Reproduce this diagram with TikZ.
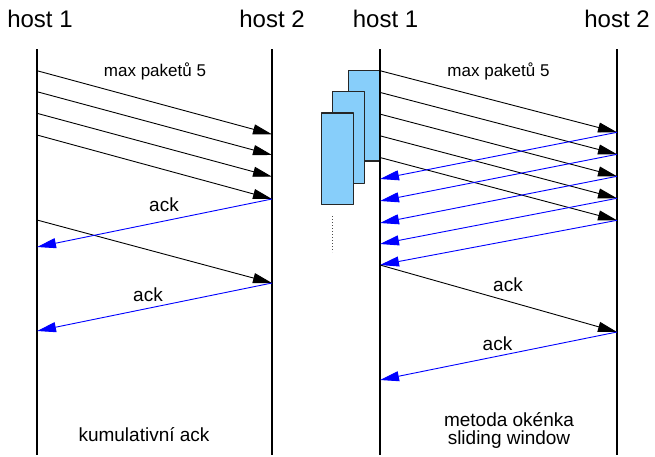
\documentclass[tikz,border=0pt]{standalone}
\usepackage{fontspec}
\setmainfont{Liberation Sans}
\usetikzlibrary{arrows.meta}
\definecolor{winBlue}{HTML}{0000FF}
\definecolor{winPane}{HTML}{87CEFA}
\definecolor{winEdge}{HTML}{262626}

\begin{document}
\begin{tikzpicture}[x=1pt,y=-1pt,line join=round]
\path[fill=white] (0,0) rectangle (655,455);
\tikzset{life/.style={draw=black,line width=2pt},msg/.style={draw=black,line width=0.9pt,-{Triangle[length=19pt,width=10pt]}},ackmsg/.style={draw=winBlue,line width=0.9pt,-{Triangle[length=19pt,width=10pt]}},pane/.style={draw=winEdge,fill=winPane,line width=1.1pt},host/.style={font=\fontsize{24}{28}\selectfont,anchor=base},lbl/.style={font=\fontsize{19}{22}\selectfont},small/.style={font=\fontsize{17}{20}\selectfont}}
% left half: cumulative ack
\node[host] (hostA) at (40,27) {host 1}; \node[host] (hostB) at (272,27) {host 2};
\coordinate (lineAt) at (37,49); \coordinate (lineAb) at (37,455); \coordinate (lineBt) at (272,49); \coordinate (lineBb) at (272,455);
\draw[life] (lineAt) -- (lineAb); \draw[life] (lineBt) -- (lineBb);
\coordinate (sendA1) at (37,70.7); \coordinate (sendA2) at (37,91.7); \coordinate (sendA3) at (37,113.3); \coordinate (sendA4) at (37,135); \coordinate (sendA5) at (37,220);
\coordinate (recvB1) at (272,134.3); \coordinate (recvB2) at (272,155); \coordinate (recvB3) at (272,176.7); \coordinate (recvB4) at (272,199); \coordinate (recvB5) at (272,283);
\coordinate (ackA1) at (37,247); \coordinate (ackA2) at (37,331);
\draw[msg] (sendA1) -- (recvB1); \draw[msg] (sendA2) -- (recvB2); \draw[msg] (sendA3) -- (recvB3); \draw[msg] (sendA4) -- (recvB4); \draw[msg] (sendA5) -- (recvB5);
\draw[ackmsg] (recvB4) -- (ackA1); \draw[ackmsg] (recvB5) -- (ackA2);
\node[small] (maxA) at (155,71) {max paketů 5}; \node[lbl] (ackLa) at (164,205) {ack}; \node[lbl] (ackLb) at (148,295) {ack};
\node[lbl] (noteA) at (144,435) {kumulativní ack};
% right half: sliding window
\path[pane] (348.3,70.7) rectangle (380,161); \path[pane] (332.3,91.7) rectangle (364.3,183.3); \path[pane] (321.3,113) rectangle (353.7,204.7);
\draw[black!70,line width=0.8pt,dash pattern=on 0.8pt off 2.2pt] (332,216) -- (332,252);
\node[host] (hostC) at (385.5,27) {host 1}; \node[host] (hostD) at (617,27) {host 2};
\coordinate (lineCt) at (380,49); \coordinate (lineCb) at (380,455); \coordinate (lineDt) at (617,49); \coordinate (lineDb) at (617,455);
\draw[life] (lineCt) -- (lineCb); \draw[life] (lineDt) -- (lineDb);
\coordinate (sendC1) at (380,70.7); \coordinate (sendC2) at (380,92.4); \coordinate (sendC3) at (380,114.1); \coordinate (sendC4) at (380,135.8); \coordinate (sendC5) at (380,157.5);
\coordinate (recvD1) at (617,132.3); \coordinate (recvD2) at (617,154.3); \coordinate (recvD3) at (617,176.3); \coordinate (recvD4) at (617,198.3); \coordinate (recvD5) at (617,220.3);
\coordinate (ackC1) at (380,179); \coordinate (ackC2) at (380,201); \coordinate (ackC3) at (380,223); \coordinate (ackC4) at (380,244); \coordinate (ackC5) at (380,265);
\coordinate (recvD6) at (617,332); \coordinate (ackC6) at (380,380);
\draw[msg] (sendC1) -- (recvD1); \draw[msg] (sendC2) -- (recvD2); \draw[msg] (sendC3) -- (recvD3); \draw[msg] (sendC4) -- (recvD4); \draw[msg] (sendC5) -- (recvD5);
\draw[ackmsg] (recvD1) -- (ackC1); \draw[ackmsg] (recvD2) -- (ackC2); \draw[ackmsg] (recvD3) -- (ackC3); \draw[ackmsg] (recvD4) -- (ackC4); \draw[ackmsg] (recvD5) -- (ackC5);
\draw[msg] (ackC5) -- (recvD6); \draw[ackmsg] (recvD6) -- (ackC6);
\node[small] (maxC) at (498.5,71) {max paketů 5}; \node[lbl] (ackLc) at (508,285) {ack}; \node[lbl] (ackLd) at (497.5,344) {ack};
\node[lbl] (noteC) at (509,420) {metoda okénka}; \node[lbl] (noteD) at (509,440) {sliding window};
\end{tikzpicture}
\end{document}
